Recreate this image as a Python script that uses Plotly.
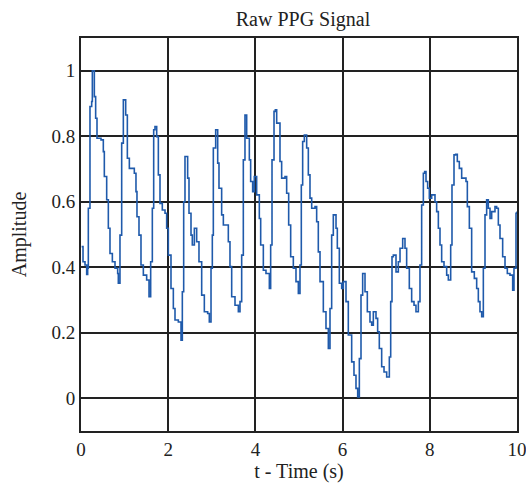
import plotly.graph_objects as go

t = [0.015, 0.046, 0.092, 0.13, 0.153, 0.168, 0.206, 0.245, 0.26, 0.298, 0.306, 0.336, 0.367, 0.459, 0.512,
     0.535, 0.589, 0.627, 0.665, 0.719, 0.78, 0.841, 0.856, 0.894, 0.933, 0.971, 1.009, 1.025, 1.063, 1.109,
     1.223, 1.261, 1.284, 1.33, 1.376, 1.43, 1.506, 1.56, 1.598, 1.636, 1.667, 1.697, 1.736, 1.774, 1.812,
     1.865, 1.927, 1.965, 2.003, 2.064, 2.118, 2.156, 2.232, 2.294, 2.324, 2.355, 2.385, 2.416, 2.446, 2.477,
     2.523, 2.553, 2.6, 2.653, 2.706, 2.768, 2.829, 2.905, 2.943, 2.982, 3.012, 3.035, 3.089, 3.135, 3.165,
     3.226, 3.265, 3.341, 3.379, 3.417, 3.456, 3.532, 3.609, 3.647, 3.685, 3.723, 3.761, 3.8, 3.861, 3.891,
     3.937, 3.975, 4.029, 4.09, 4.121, 4.182, 4.243, 4.32, 4.35, 4.381, 4.427, 4.457, 4.488, 4.564, 4.602,
     4.679, 4.717, 4.763, 4.809, 4.87, 4.931, 4.985, 5.023, 5.053, 5.084, 5.122, 5.176, 5.214, 5.252, 5.291,
     5.367, 5.405, 5.443, 5.482, 5.558, 5.619, 5.673, 5.711, 5.749, 5.787, 5.818, 5.849, 5.879, 5.925, 5.979,
     6.017, 6.078, 6.131, 6.208, 6.261, 6.307, 6.346, 6.384, 6.422, 6.46, 6.514, 6.567, 6.628, 6.667, 6.705,
     6.766, 6.804, 6.842, 6.896, 6.95, 7.011, 7.072, 7.103, 7.133, 7.164, 7.225, 7.278, 7.317, 7.378, 7.431,
     7.469, 7.53, 7.584, 7.638, 7.683, 7.737, 7.775, 7.813, 7.852, 7.882, 7.913, 7.951, 7.989, 8.043, 8.119,
     8.157, 8.196, 8.234, 8.272, 8.326, 8.387, 8.425, 8.479, 8.509, 8.555, 8.593, 8.631, 8.677, 8.731, 8.83,
     8.861, 8.907, 8.96, 9.021, 9.075, 9.113, 9.151, 9.19, 9.228, 9.266, 9.304, 9.342, 9.381, 9.419, 9.495,
     9.534, 9.572, 9.61, 9.671, 9.725, 9.778, 9.839, 9.901, 9.931, 9.977, 10.0]

amplitude = [0.463, 0.417, 0.407, 0.378, 0.397, 0.58, 0.891, 0.906, 1.0, 1.0, 0.921, 0.855, 0.794, 0.789, 0.753,
             0.677, 0.606, 0.519, 0.442, 0.417, 0.397, 0.381, 0.351, 0.498, 0.779, 0.911, 0.911, 0.865, 0.733, 0.702,
             0.687, 0.631, 0.554, 0.498, 0.407, 0.376, 0.361, 0.31, 0.417, 0.58, 0.82, 0.83, 0.799, 0.682, 0.595,
             0.575, 0.565, 0.519, 0.437, 0.335, 0.274, 0.239, 0.233, 0.177, 0.325, 0.6, 0.738, 0.738, 0.672, 0.565,
             0.498, 0.468, 0.519, 0.478, 0.417, 0.315, 0.264, 0.259, 0.233, 0.397, 0.498, 0.764, 0.82, 0.718, 0.641,
             0.56, 0.529, 0.529, 0.478, 0.402, 0.31, 0.284, 0.264, 0.295, 0.437, 0.728, 0.865, 0.794, 0.728, 0.662,
             0.631, 0.677, 0.621, 0.549, 0.468, 0.391, 0.381, 0.335, 0.468, 0.728, 0.876, 0.881, 0.84, 0.723, 0.672,
             0.677, 0.626, 0.529, 0.432, 0.397, 0.356, 0.32, 0.407, 0.651, 0.784, 0.804, 0.764, 0.682, 0.611, 0.58,
             0.585, 0.539, 0.447, 0.356, 0.264, 0.213, 0.152, 0.274, 0.498, 0.56, 0.56, 0.519, 0.458, 0.351, 0.335,
             0.356, 0.295, 0.193, 0.111, 0.07, 0.03, 0.004, 0.121, 0.315, 0.381, 0.325, 0.264, 0.233, 0.223, 0.264,
             0.244, 0.203, 0.152, 0.096, 0.08, 0.065, 0.126, 0.295, 0.432, 0.437, 0.386, 0.417, 0.458, 0.488, 0.458,
             0.397, 0.335, 0.295, 0.284, 0.264, 0.295, 0.407, 0.59, 0.687, 0.692, 0.662, 0.641, 0.611, 0.621, 0.6,
             0.57, 0.519, 0.468, 0.417, 0.402, 0.376, 0.361, 0.468, 0.651, 0.743, 0.745, 0.723, 0.702, 0.672, 0.662,
             0.585, 0.519, 0.386, 0.366, 0.335, 0.295, 0.264, 0.249, 0.397, 0.56, 0.606, 0.58, 0.549, 0.57, 0.585,
             0.58, 0.529, 0.488, 0.432, 0.397, 0.381, 0.376, 0.33, 0.397, 0.565, 0.57]

x_ticks = [0, 2, 4, 6, 8, 10]
y_ticks = [0, 0.2, 0.4, 0.6, 0.8, 1]
y_tick_labels = ["0", "0.2", "0.4", "0.6", "0.8", "1"]

FONT = "Liberation Serif"

fig = go.Figure()
fig.add_trace(go.Scatter(
    x=t, y=amplitude, mode="lines", line_shape="hv",
    line=dict(color="#1f5aab", width=1.6), showlegend=False,
))

fig.update_layout(
    width=526, height=487,
    margin=dict(l=81, r=9, t=38, b=56, autoexpand=False),
    paper_bgcolor="white", plot_bgcolor="white",
    font=dict(family=FONT, size=19, color="#222"),
    title=dict(text="Raw PPG Signal", x=0.576, xanchor="center", y=0.962, yanchor="middle",
               font=dict(family=FONT, size=20, color="#222")),
)
fig.update_xaxes(
    range=[0, 10], tickvals=x_ticks, ticktext=[str(v) for v in x_ticks],
    showgrid=True, gridcolor="#222", gridwidth=1.5, zeroline=False,
    showline=True, linecolor="#222", linewidth=2, mirror=True, ticks="",
    automargin=False, ticklabeloverflow="allow",
    title=dict(text="t - Time (s)", standoff=4, font=dict(family=FONT, size=20)),
    tickfont=dict(family=FONT, size=19),
)
fig.update_yaxes(
    range=[-0.1, 1.1], tickvals=y_ticks, ticktext=y_tick_labels,
    showgrid=True, gridcolor="#222", gridwidth=1.5, zeroline=False,
    showline=True, linecolor="#222", linewidth=2, mirror=True, ticks="",
    automargin=False, ticklabeloverflow="allow",
    title=dict(text="Amplitude", standoff=19, font=dict(family=FONT, size=20)),
    tickfont=dict(family=FONT, size=19),
)

fig.write_html("out.html")
